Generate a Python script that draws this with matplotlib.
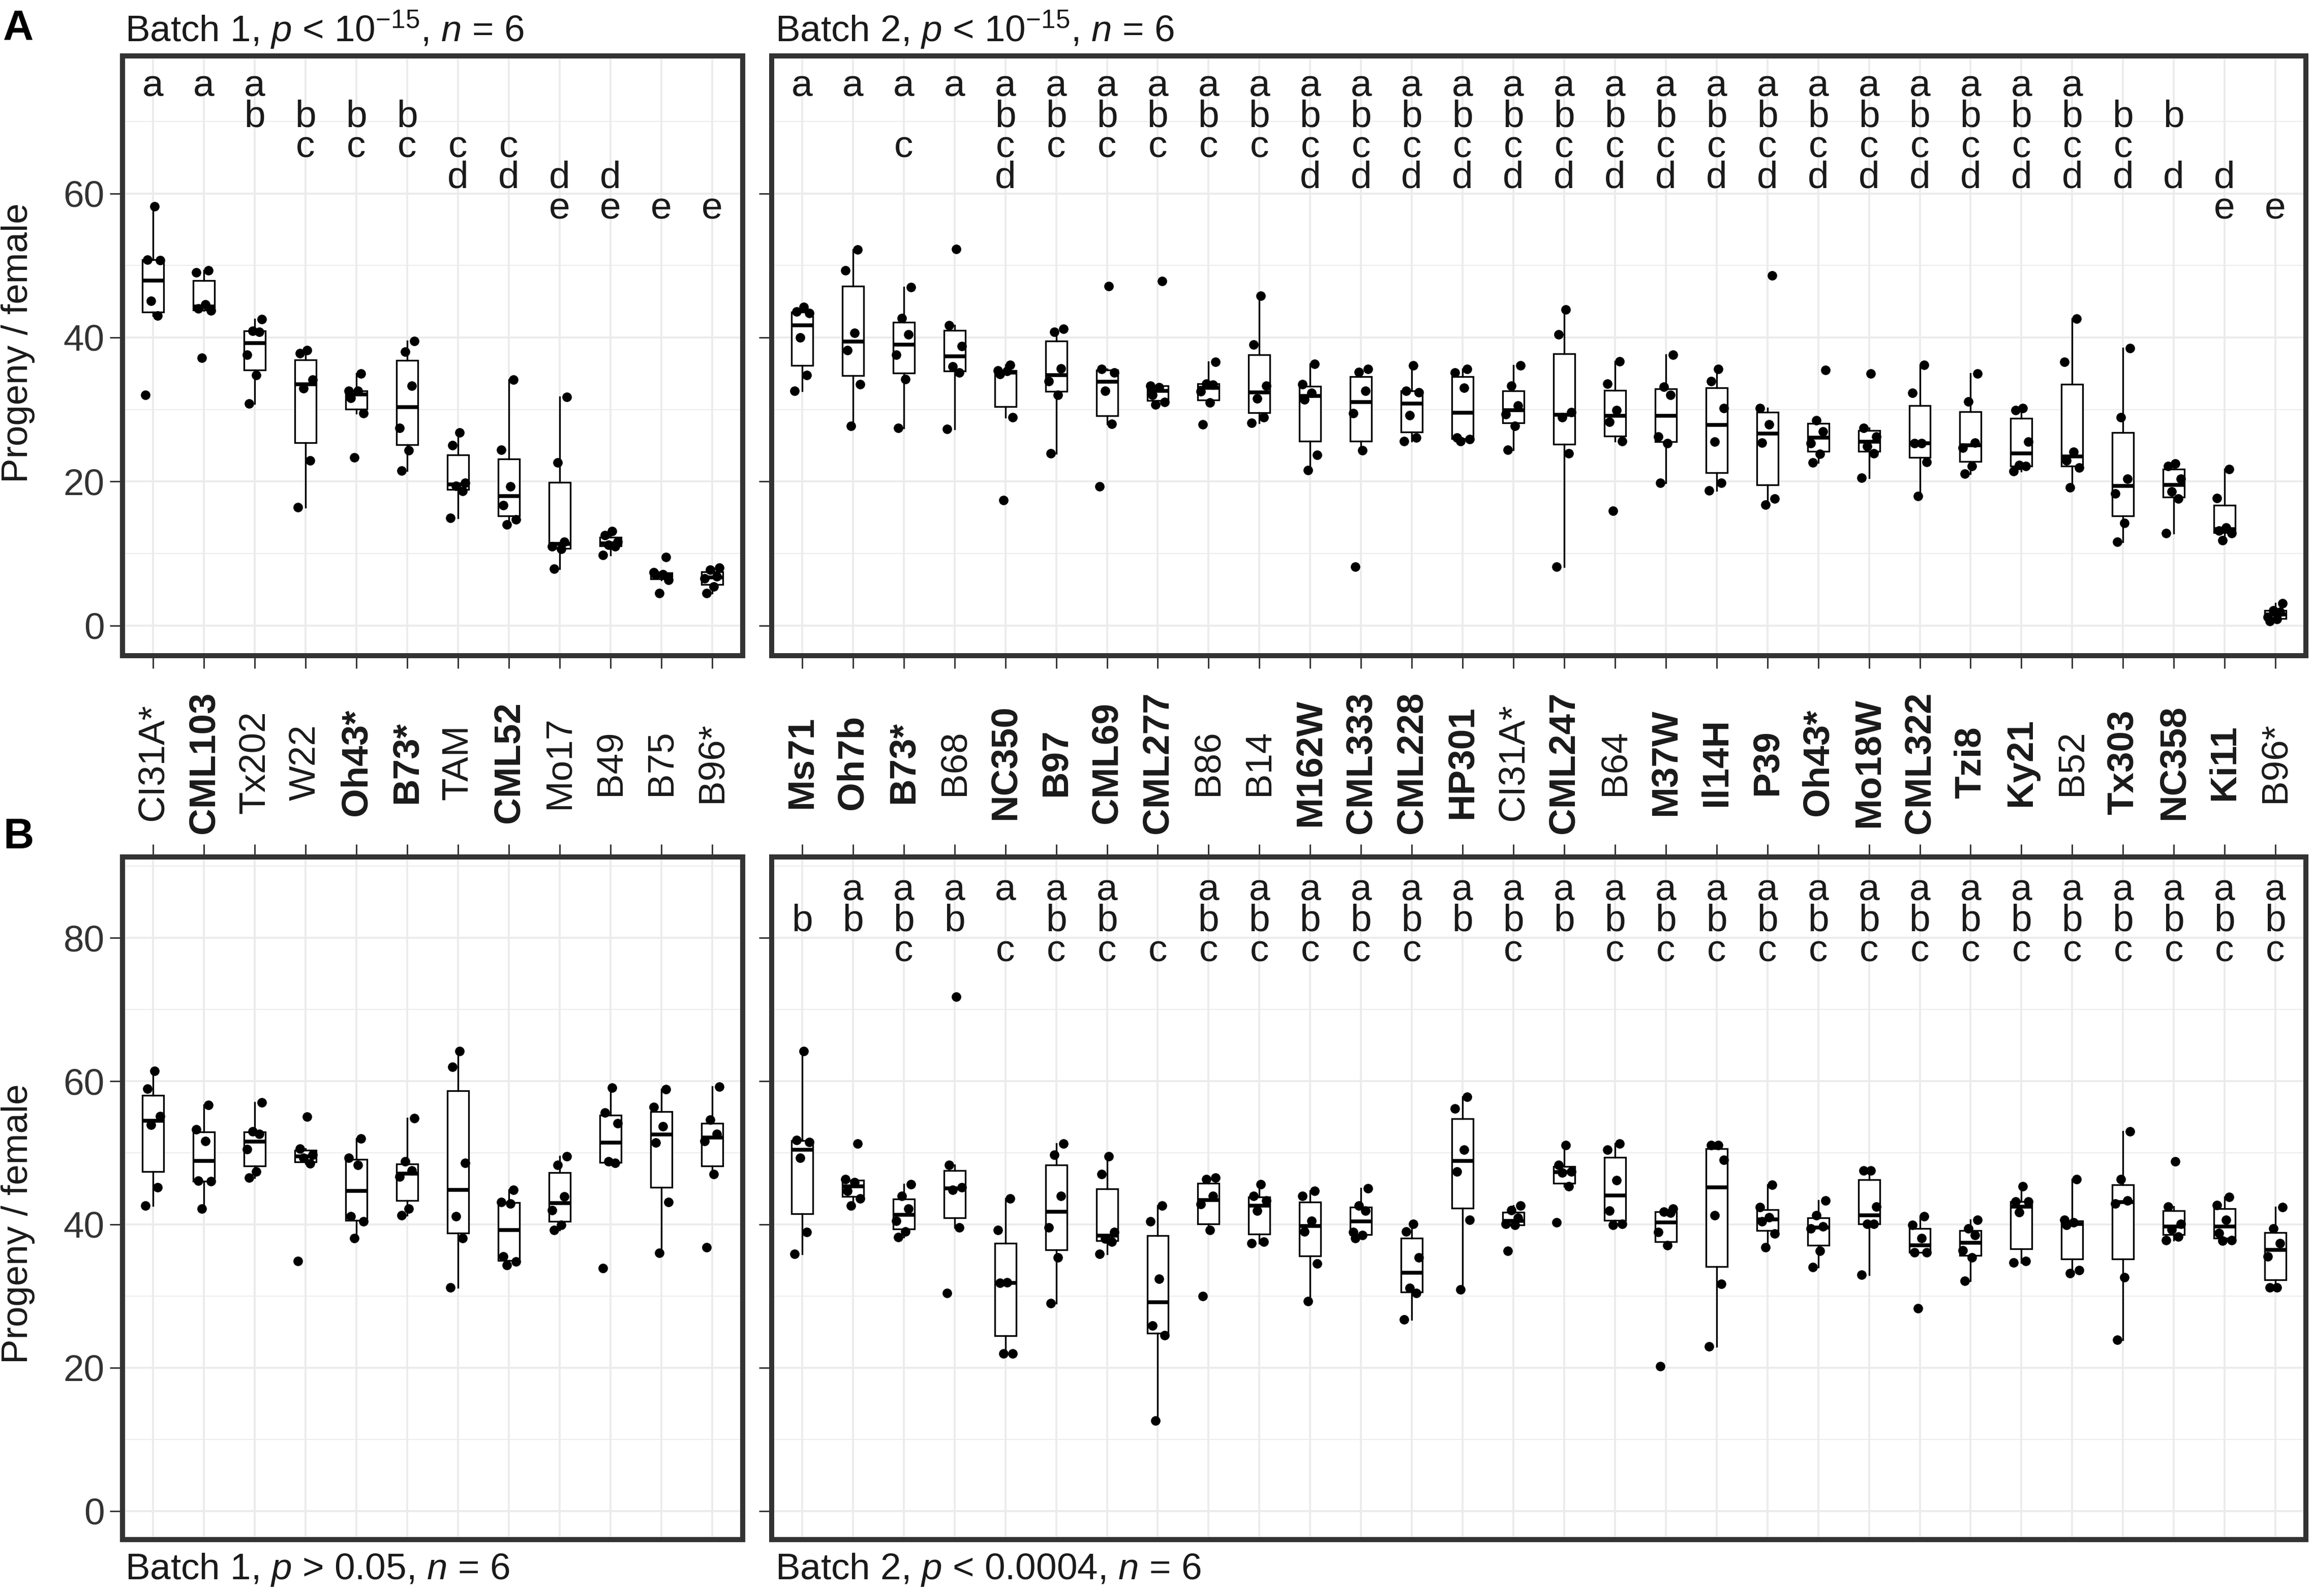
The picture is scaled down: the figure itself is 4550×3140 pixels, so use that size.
import matplotlib
matplotlib.use("Agg")
import matplotlib.pyplot as plt
import matplotlib.transforms as mtrans
import numpy as np

plt.rcParams['font.family'] = ['Liberation Sans', 'DejaVu Sans']
plt.rcParams['mathtext.fontset'] = 'custom'
plt.rcParams['mathtext.rm'] = 'Liberation Sans'
plt.rcParams['mathtext.it'] = 'Liberation Sans:italic'
plt.rcParams['mathtext.bf'] = 'Liberation Sans:bold'

# ---------------- data ----------------
genotypes_b1 = ["CI31A*", "CML103", "Tx202", "W22", "Oh43*", "B73*", "TAM",
                "CML52", "Mo17", "B49", "B75", "B96*"]
bold_b1 = [False, True, False, False, True, True, False, True, False, False,
           False, False]

genotypes_b2 = ["Ms71", "Oh7b", "B73*", "B68", "NC350", "B97", "CML69", "CML277",
                "B86", "B14", "M162W", "CML333", "CML228", "HP301", "CI31A*",
                "CML247", "B64", "M37W", "Il14H", "P39", "Oh43*", "Mo18W",
                "CML322", "Tzi8", "Ky21", "B52", "Tx303", "NC358", "Ki11", "B96*"]
bold_b2 = [True, True, True, False, True, True, True, True, False, False, True,
           True, True, True, False, True, False, True, True, True, True, True,
           True, True, True, False, True, True, True, False]

letters_A_b1 = ["a", "a", "ab", "bc", "bc", "bc", "cd", "cd", "de", "de", "e", "e"]
letters_A_b2 = ["a", "a", "ac", "a", "abcd", "abc", "abc", "abc", "abc", "abc",
                "abcd", "abcd", "abcd", "abcd", "abcd", "abcd", "abcd", "abcd",
                "abcd", "abcd", "abcd", "abcd", "abcd", "abcd", "abcd", "abcd",
                "bcd", "bd", "de", "e"]
letters_B_b1 = [""] * 12
letters_B_b2 = ["b", "ab", "abc", "ab", "ac", "abc", "abc", "c", "abc", "abc",
                "abc", "abc", "abc", "ab", "abc", "ab", "abc", "abc", "abc", "abc",
                "abc", "abc", "abc", "abc", "abc", "abc", "abc", "abc", "abc", "abc"]

values_A_b1 = [
    [32.0, 43.0, 45.1, 50.7, 50.8, 58.2],
    [37.2, 43.75, 44.0, 44.6, 49.0, 49.3],
    [30.8, 34.8, 37.6, 40.8, 40.9, 42.5],
    [16.4, 22.9, 32.9, 34.1, 37.8, 38.2],
    [23.3, 29.5, 31.6, 32.6, 32.6, 35.0],
    [21.5, 24.3, 27.4, 33.3, 38.0, 39.5],
    [14.9, 18.7, 19.4, 19.8, 25.0, 26.8],
    [14.0, 14.7, 16.7, 19.3, 24.4, 34.1],
    [7.9, 10.6, 11.0, 11.6, 22.6, 31.7],
    [9.8, 11.0, 11.2, 11.6, 12.5, 13.1],
    [4.5, 6.3, 7.0, 7.1, 7.4, 9.5],
    [4.5, 5.4, 6.5, 6.8, 7.7, 8.0],
]

values_A_b2 = [
    [32.6, 34.8, 40.0, 43.4, 43.6, 44.2],
    [27.7, 33.5, 38.2, 40.6, 49.3, 52.2],
    [27.4, 34.2, 37.6, 40.4, 42.7, 47.0],
    [27.3, 35.1, 36.0, 38.8, 41.7, 52.3],
    [17.4, 28.9, 34.9, 35.3, 35.4, 36.2],
    [23.9, 32.0, 33.9, 35.7, 40.8, 41.2],
    [19.3, 28.0, 32.6, 35.1, 35.6, 47.1],
    [30.7, 31.0, 32.0, 33.1, 33.3, 47.8],
    [27.9, 30.95, 32.5, 33.45, 33.6, 36.6],
    [28.1, 28.9, 31.5, 33.3, 39.0, 45.8],
    [21.6, 23.7, 31.4, 32.3, 33.5, 36.3],
    [8.15, 24.3, 29.5, 32.6, 35.2, 35.6],
    [25.6, 26.1, 29.2, 32.4, 32.6, 36.1],
    [25.6, 25.9, 26.1, 33.0, 35.1, 35.6],
    [24.4, 27.7, 29.3, 30.5, 33.3, 36.1],
    [8.15, 23.9, 28.9, 29.6, 40.4, 43.9],
    [15.95, 25.6, 28.3, 29.9, 33.6, 36.7],
    [19.8, 25.3, 26.2, 32.0, 33.15, 37.6],
    [18.75, 19.8, 25.5, 30.2, 33.9, 35.6],
    [16.8, 17.6, 25.4, 27.9, 30.2, 48.6],
    [22.6, 23.8, 25.3, 26.9, 28.45, 35.5],
    [20.5, 23.9, 24.9, 26.2, 27.4, 35.0],
    [18.0, 22.7, 25.3, 25.3, 32.3, 36.2],
    [21.1, 22.1, 24.7, 25.4, 31.1, 35.0],
    [21.4, 22.1, 22.3, 25.5, 29.9, 30.2],
    [19.2, 21.9, 22.9, 24.1, 36.6, 42.6],
    [11.6, 14.2, 18.3, 20.4, 28.9, 38.5],
    [12.8, 17.6, 18.6, 20.4, 22.1, 22.5],
    [11.8, 12.8, 13.2, 13.6, 17.7, 21.7],
    [0.6, 0.9, 1.2, 1.9, 2.1, 3.1],
]

values_B_b1 = [
    [42.6, 45.2, 53.9, 55.1, 58.95, 61.4],
    [42.2, 46.0, 46.1, 51.6, 53.3, 56.65],
    [46.5, 47.4, 50.5, 52.6, 53.0, 57.0],
    [34.9, 48.5, 49.3, 49.7, 50.6, 55.05],
    [38.05, 40.4, 41.1, 48.3, 49.3, 52.0],
    [41.3, 42.2, 46.7, 47.5, 48.8, 54.8],
    [31.2, 38.05, 41.1, 48.6, 62.0, 64.2],
    [34.35, 34.8, 35.5, 42.9, 43.1, 44.8],
    [39.2, 39.9, 42.0, 43.9, 48.3, 49.5],
    [33.9, 48.6, 48.8, 54.1, 55.6, 59.1],
    [36.0, 43.1, 51.4, 53.7, 56.4, 58.9],
    [36.8, 47.0, 51.6, 52.6, 54.6, 59.2],
]

values_B_b2 = [
    [35.9, 38.9, 49.3, 51.5, 51.8, 64.2],
    [42.6, 43.6, 44.7, 45.9, 46.3, 51.3],
    [38.2, 39.0, 40.5, 42.2, 44.0, 45.6],
    [30.4, 39.6, 44.8, 45.2, 48.3, 71.8],
    [21.95, 22.0, 31.8, 31.9, 39.2, 43.6],
    [29.0, 35.4, 39.6, 44.0, 49.7, 51.3],
    [35.9, 37.6, 38.0, 38.9, 47.0, 49.5],
    [12.6, 24.5, 25.85, 32.4, 40.4, 42.6],
    [30.0, 39.2, 42.8, 44.0, 46.3, 46.55],
    [37.35, 37.6, 41.9, 43.3, 44.0, 45.6],
    [29.3, 34.5, 39.0, 40.5, 44.0, 44.7],
    [38.05, 38.5, 38.9, 41.9, 42.6, 45.0],
    [26.7, 30.4, 31.1, 35.4, 39.0, 40.1],
    [30.9, 40.6, 47.4, 50.4, 56.2, 57.8],
    [36.3, 39.9, 40.1, 40.9, 42.0, 42.6],
    [40.3, 45.3, 47.2, 47.4, 48.3, 51.1],
    [39.9, 40.1, 41.9, 46.2, 50.4, 51.3],
    [20.2, 37.1, 38.9, 41.6, 41.8, 42.2],
    [23.0, 31.7, 41.3, 49.0, 51.1, 51.1],
    [36.8, 38.7, 40.4, 41.0, 42.4, 45.5],
    [34.0, 36.3, 39.4, 39.7, 41.3, 43.3],
    [33.0, 40.1, 40.1, 42.5, 47.5, 47.5],
    [28.3, 36.1, 36.1, 38.05, 39.9, 41.1],
    [32.1, 35.4, 36.4, 38.5, 39.4, 40.6],
    [34.7, 34.9, 41.7, 43.2, 43.2, 45.3],
    [33.2, 33.6, 39.9, 40.3, 40.6, 46.3],
    [23.9, 32.6, 42.9, 43.3, 46.3, 53.0],
    [37.8, 38.3, 39.3, 40.1, 42.5, 48.8],
    [37.7, 37.8, 38.8, 40.6, 42.7, 43.8],
    [31.2, 31.2, 35.5, 37.35, 39.4, 42.4],
]

titles_A = [r"Batch 1, $p$ < 10$^{-15}$, $n$ = 6", r"Batch 2, $p$ < 10$^{-15}$, $n$ = 6"]
titles_B = [r"Batch 1, $p$ > 0.05, $n$ = 6", r"Batch 2, $p$ < 0.0004, $n$ = 6"]
ylabel = "Progeny / female"

# ---------------- styling / layout ----------------
W, H, DPI = 4550, 3140, 300
JITTER = [-0.15, 0.09, -0.04, 0.14, -0.11, 0.03]
FS = 17.5
BORDER = '#333333'
GRID = '#EBEBEB'

fig = plt.figure(figsize=(W / DPI, H / DPI), dpi=DPI)


def rect(x0, y0, x1, y1):
    return [x0 / W, 1 - y1 / H, (x1 - x0) / W, (y1 - y0) / H]


axA1 = fig.add_axes(rect(241, 110, 1461, 1290))
axA2 = fig.add_axes(rect(1518, 110, 4536, 1290))
axB1 = fig.add_axes(rect(241, 1686, 1461, 3029))
axB2 = fig.add_axes(rect(1518, 1686, 4536, 3029))

ylim_A = (-4.2, 79.1)
ylim_B = (-4.0, 91.3)
base_A = {"a": 73.5, "b": 69.25, "c": 65.0, "d": 60.75, "e": 56.5}
base_B = {"a": 85.2, "b": 80.95, "c": 76.7}


def draw_panel(ax, values, letters, ylim, base, major, minor, top_ticks, left_labels):
    n = len(values)
    pos = np.arange(n)
    ax.set_xlim(-0.6, n - 0.4)
    ax.set_ylim(*ylim)
    ax.set_axisbelow(True)
    ax.set_xticks(pos)
    ax.set_yticks(major)
    ax.set_yticks(minor, minor=True)
    ax.grid(which='major', color=GRID, lw=0.9)
    ax.grid(which='minor', axis='y', color=GRID, lw=0.45)
    ax.tick_params(which='minor', length=0)
    ax.tick_params(which='major', direction='out', length=6, width=0.7,
                   color=BORDER, labelsize=FS, labelcolor='#333333', pad=2.5)
    if top_ticks:
        ax.tick_params(axis='x', bottom=False, top=True, labelbottom=False, labeltop=False)
    else:
        ax.tick_params(axis='x', labelbottom=False)
    if not left_labels:
        ax.tick_params(axis='y', labelleft=False)
    for s in ax.spines.values():
        s.set_linewidth(2.4)
        s.set_color(BORDER)
    ax.boxplot(values, positions=pos, widths=0.42, whis=1.5, showfliers=False,
               showcaps=False, patch_artist=True, manage_ticks=False,
               boxprops=dict(facecolor='white', edgecolor='black', linewidth=0.8),
               whiskerprops=dict(color='black', linewidth=0.8),
               medianprops=dict(color='black', linewidth=1.8), zorder=2)
    for i, vals in enumerate(values):
        offs = np.array([JITTER[(j + 2 * i) % 6] for j in range(len(vals))])
        ax.plot(i + offs, vals, 'o', color='black', ms=4.5, mew=0, zorder=3)
    for i, lt in enumerate(letters):
        for ch in lt:
            ax.text(i, base[ch], ch, ha='center', va='baseline', fontsize=FS + 0.5,
                    color='#1a1a1a')


draw_panel(axA1, values_A_b1, letters_A_b1, ylim_A, base_A, [0, 20, 40, 60],
           [10, 30, 50, 70], False, True)
draw_panel(axA2, values_A_b2, letters_A_b2, ylim_A, base_A, [0, 20, 40, 60],
           [10, 30, 50, 70], False, False)
draw_panel(axB1, values_B_b1, letters_B_b1, ylim_B, base_B, [0, 20, 40, 60, 80],
           [10, 30, 50, 70, 90], True, True)
draw_panel(axB2, values_B_b2, letters_B_b2, ylim_B, base_B, [0, 20, 40, 60, 80],
           [10, 30, 50, 70, 90], True, False)

# shared genotype labels between the two rows
label_y = 1 - 1500 / H
for ax, names, bolds in [(axA1, genotypes_b1, bold_b1), (axA2, genotypes_b2, bold_b2)]:
    tr = mtrans.blended_transform_factory(ax.transData, fig.transFigure)
    for i, (nm, b) in enumerate(zip(names, bolds)):
        ax.text(i, label_y, nm, transform=tr, rotation=90, ha='center', va='center',
                fontsize=FS, fontweight='bold' if b else 'normal', color='#1a1a1a',
                clip_on=False)

# titles
fig.text(246 / W, 1 - 82 / H, titles_A[0], ha='left', va='baseline', fontsize=FS, color='#1a1a1a')
fig.text(1525 / W, 1 - 82 / H, titles_A[1], ha='left', va='baseline', fontsize=FS, color='#1a1a1a')
fig.text(246 / W, 1 - 3107 / H, titles_B[0], ha='left', va='baseline', fontsize=FS, color='#1a1a1a')
fig.text(1525 / W, 1 - 3107 / H, titles_B[1], ha='left', va='baseline', fontsize=FS, color='#1a1a1a')

# y labels
fig.text(36 / W, 1 - 675 / H, ylabel, rotation=90, ha='center', va='center', fontsize=FS, color='#1a1a1a')
fig.text(36 / W, 1 - 2408 / H, ylabel, rotation=90, ha='center', va='center', fontsize=FS, color='#1a1a1a')

# panel letters
fig.text(6 / W, 1 - 78 / H, "A", ha='left', va='baseline', fontsize=20, fontweight='bold')
fig.text(6 / W, 1 - 1669 / H, "B", ha='left', va='baseline', fontsize=20, fontweight='bold')

fig.savefig("out.png", dpi=DPI, facecolor='white')
